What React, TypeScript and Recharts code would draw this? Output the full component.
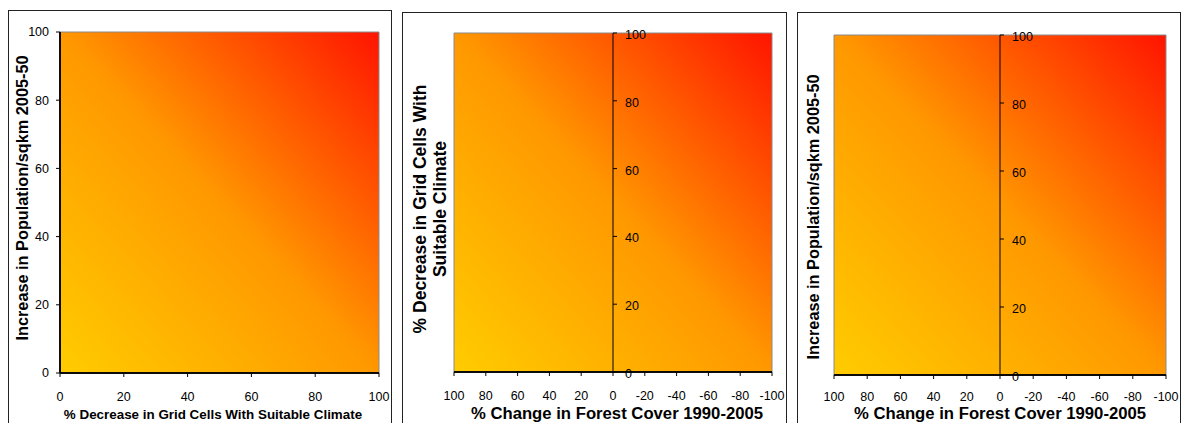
import React from "react";
import {
  ComposedChart,
  XAxis,
  YAxis,
  ReferenceArea,
  ReferenceLine,
  ReferenceDot,
  Scatter,
} from "recharts";

// ---- data ----
const climateTicks = [0, 20, 40, 60, 80, 100];
const popTicks = [0, 20, 40, 60, 80, 100];
const forestTicks = [100, 80, 60, 40, 20, 0, -20, -40, -60, -80, -100];
const climateDomain = [0, 100];
const popDomain = [0, 100];
const forestDomain = [-100, 100];
const emptySeries: { x: number; y: number }[] = [];

const titles = {
  climateX: "% Decrease in Grid Cells With Suitable Climate",
  popY: "Increase in Population/sqkm 2005-50",
  forestX: "% Change in Forest Cover 1990-2005",
  climateYLine1: "% Decrease in Grid Cells With",
  climateYLine2: "Suitable Climate",
};

const FONT = "'Liberation Sans', Arial, Helvetica, sans-serif";
const TICK_FS = 12.5;
const tickStyle = { fill: "#000", fontSize: TICK_FS, fontFamily: FONT };

const Grad = ({ id }: { id: string }) => (
  <defs>
    <linearGradient id={id} x1="0" y1="1" x2="1" y2="0">
      <stop offset="0%" stopColor="#FFCC00" />
      <stop offset="50%" stopColor="#FF9800" />
      <stop offset="100%" stopColor="#FF1400" />
    </linearGradient>
  </defs>
);

const makeZeroTick = (value: number) => (props: any) => {
  const { cx, cy } = props;
  return (
    <g>
      <line x1={cx} y1={cy} x2={cx + 4} y2={cy} stroke="#000" strokeWidth={1} />
      <text
        x={cx + 12}
        y={cy + 2}
        dominantBaseline="central"
        fontSize={TICK_FS}
        fontFamily={FONT}
        fill="#000"
      >
        {value}
      </text>
    </g>
  );
};

const boxStyle = (left: number, top: number, width: number): React.CSSProperties => ({
  position: "absolute",
  left,
  top,
  width,
  height: 440,
  border: "1.5px solid #222",
  boxSizing: "border-box",
});

const chartPos = (left: number, top: number): React.CSSProperties => ({
  position: "absolute",
  left,
  top,
});

export default function App() {
  return (
    <div
      style={{
        position: "fixed",
        left: 0,
        top: 0,
        width: 1182,
        height: 423,
        overflow: "hidden",
        background: "#fff",
        fontFamily: FONT,
      }}
    >
      {/* Panel 1 */}
      <div style={boxStyle(8, 10, 384)} />
      <div style={chartPos(8, 10)}>
        <ComposedChart
          width={384}
          height={430}
          margin={{ top: 22, right: 13, bottom: 37, left: 0 }}
        >
          <Grad id="g1" />
          <ReferenceArea
            x1={climateDomain[0]}
            x2={climateDomain[1]}
            y1={popDomain[0]}
            y2={popDomain[1]}
            fill="url(#g1)"
            fillOpacity={1}
            stroke="#8a8a8a"
            strokeWidth={1}
          />
          <ReferenceLine x={climateDomain[0]} stroke="#000" strokeWidth={1.5} />
          <ReferenceLine y={popDomain[0]} stroke="#000" strokeWidth={1.5} />
          <XAxis
            type="number"
            dataKey="x"
            domain={climateDomain}
            allowDataOverflow
            ticks={climateTicks}
            interval={0}
            height={30}
            tickSize={4}
            tickMargin={15}
            tick={tickStyle}
            tickLine={{ stroke: "#000" }}
            axisLine={{ stroke: "#000", strokeWidth: 1.5 }}
            label={{
              content: () => (
                <text
                  x={205}
                  y={409}
                  textAnchor="middle"
                  fontSize={13.4}
                  fontWeight="bold"
                  fontFamily={FONT}
                  fill="#000"
                >
                  {titles.climateX}
                </text>
              ),
            }}
          />
          <YAxis
            type="number"
            dataKey="y"
            domain={popDomain}
            allowDataOverflow
            ticks={popTicks}
            interval={0}
            width={52}
            tickSize={4}
            tickMargin={7}
            tick={tickStyle}
            tickLine={{ stroke: "#000" }}
            axisLine={{ stroke: "#000", strokeWidth: 1.5 }}
            label={{
              content: () => (
                <text
                  x={0}
                  y={0}
                  transform={`translate(20, 188) rotate(-90)`}
                  textAnchor="middle"
                  fontSize={16.3}
                  fontWeight="bold"
                  fontFamily={FONT}
                  fill="#000"
                >
                  {titles.popY}
                </text>
              ),
            }}
          />
          <Scatter data={emptySeries} dataKey="y" isAnimationActive={false} />
        </ComposedChart>
      </div>

      {/* Panel 2 */}
      <div style={boxStyle(402, 12, 385)} />
      <div style={chartPos(402, 12)}>
        <ComposedChart
          width={385}
          height={430}
          margin={{ top: 21, right: 15, bottom: 40, left: 0 }}
        >
          <Grad id="g2" />
          <ReferenceArea
            x1={forestDomain[0]}
            x2={forestDomain[1]}
            y1={climateDomain[0]}
            y2={climateDomain[1]}
            fill="url(#g2)"
            fillOpacity={1}
            stroke="#8a8a8a"
            strokeWidth={1}
          />
          <ReferenceLine y={climateDomain[0]} stroke="#000" strokeWidth={1.5} />
          <XAxis
            type="number"
            dataKey="x"
            domain={forestDomain}
            allowDataOverflow
            ticks={forestTicks}
            reversed
            interval={0}
            height={30}
            tickSize={4}
            tickMargin={15}
            tick={tickStyle}
            tickLine={{ stroke: "#000" }}
            axisLine={{ stroke: "#000", strokeWidth: 1.5 }}
            label={{
              content: () => (
                <text
                  x={215}
                  y={407}
                  textAnchor="middle"
                  fontSize={16.7}
                  fontWeight="bold"
                  fontFamily={FONT}
                  fill="#000"
                >
                  {titles.forestX}
                </text>
              ),
            }}
          />
          <YAxis
            type="number"
            dataKey="y"
            domain={climateDomain}
            allowDataOverflow
            ticks={climateTicks}
            width={52}
            tick={false}
            tickLine={false}
            axisLine={false}
            label={{
              content: () => (
                <g transform={`translate(0, 197)`}>
                  <text
                    transform={`translate(24, 0) rotate(-90)`}
                    textAnchor="middle"
                    fontSize={17.5}
                    fontWeight="bold"
                    fontFamily={FONT}
                    fill="#000"
                  >
                    {titles.climateYLine1}
                  </text>
                  <text
                    transform={`translate(44, 0) rotate(-90)`}
                    textAnchor="middle"
                    fontSize={17.5}
                    fontWeight="bold"
                    fontFamily={FONT}
                    fill="#000"
                  >
                    {titles.climateYLine2}
                  </text>
                </g>
              ),
            }}
          />
          <ReferenceLine x={0} stroke="#000" strokeWidth={1} />
          {climateTicks.map((v) => (
            <ReferenceDot
              key={v}
              x={0}
              y={v}
              r={0}
              shape={makeZeroTick(v)}
            />
          ))}
          <Scatter data={emptySeries} dataKey="y" isAnimationActive={false} />
        </ComposedChart>
      </div>

      {/* Panel 3 */}
      <div style={boxStyle(797, 12, 384)} />
      <div style={chartPos(797, 12)}>
        <ComposedChart
          width={384}
          height={430}
          margin={{ top: 23, right: 15, bottom: 37, left: 0 }}
        >
          <Grad id="g3" />
          <ReferenceArea
            x1={forestDomain[0]}
            x2={forestDomain[1]}
            y1={popDomain[0]}
            y2={popDomain[1]}
            fill="url(#g3)"
            fillOpacity={1}
            stroke="#8a8a8a"
            strokeWidth={1}
          />
          <ReferenceLine y={popDomain[0]} stroke="#000" strokeWidth={1.5} />
          <XAxis
            type="number"
            dataKey="x"
            domain={forestDomain}
            allowDataOverflow
            ticks={forestTicks}
            reversed
            interval={0}
            height={30}
            tickSize={4}
            tickMargin={13}
            tick={tickStyle}
            tickLine={{ stroke: "#000" }}
            axisLine={{ stroke: "#000", strokeWidth: 1.5 }}
            label={{
              content: () => (
                <text
                  x={203}
                  y={407}
                  textAnchor="middle"
                  fontSize={16.7}
                  fontWeight="bold"
                  fontFamily={FONT}
                  fill="#000"
                >
                  {titles.forestX}
                </text>
              ),
            }}
          />
          <YAxis
            type="number"
            dataKey="y"
            domain={popDomain}
            allowDataOverflow
            ticks={popTicks}
            width={37}
            tick={false}
            tickLine={false}
            axisLine={false}
            label={{
              content: () => (
                <text
                  transform={`translate(22, 205) rotate(-90)`}
                  textAnchor="middle"
                  fontSize={16.3}
                  fontWeight="bold"
                  fontFamily={FONT}
                  fill="#000"
                >
                  {titles.popY}
                </text>
              ),
            }}
          />
          <ReferenceLine x={0} stroke="#000" strokeWidth={1} />
          {popTicks.map((v) => (
            <ReferenceDot
              key={v}
              x={0}
              y={v}
              r={0}
              shape={makeZeroTick(v)}
            />
          ))}
          <Scatter data={emptySeries} dataKey="y" isAnimationActive={false} />
        </ComposedChart>
      </div>
    </div>
  );
}
